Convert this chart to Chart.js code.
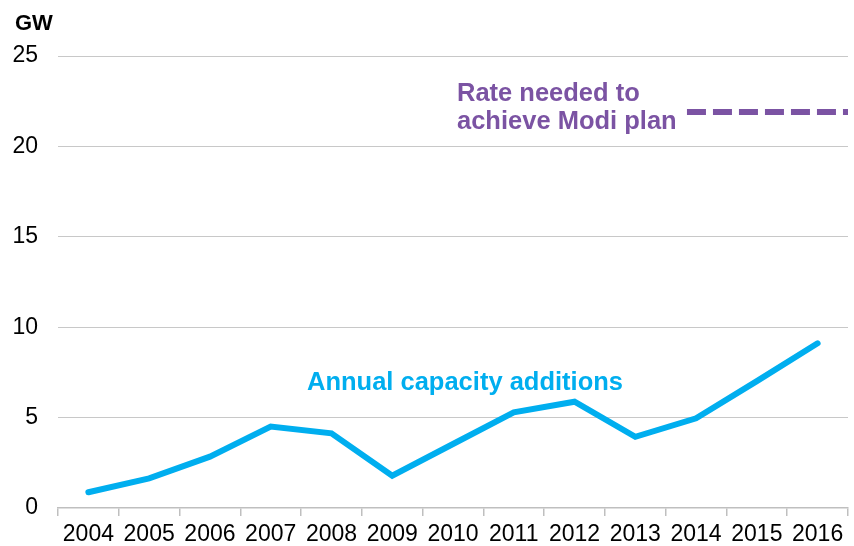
<!DOCTYPE html>
<html>
<head>
<meta charset="utf-8">
<script src="https://cdn.jsdelivr.net/npm/chart.js@4/dist/chart.umd.min.js"></script>
<style>
  html, body { margin: 0; padding: 0; background: #fff; }
  #wrap { width: 854px; height: 546px; }
</style>
</head>
<body>
<div id="wrap"><canvas id="chart"></canvas></div>
<script>
// data
const years = ['2004', '2005', '2006', '2007', '2008', '2009', '2010',
  '2011', '2012', '2013', '2014', '2015', '2016']
const additions = [0.87, 1.64, 2.84, 4.5, 4.13, 1.79, 3.54, 5.29, 5.88, 3.94, 4.96, 7.02, 9.11]
const modiRate = 21.9
const modiFrom = 9.85   // category index where the dashed line starts
const modiTo = 12.5     // right edge of the plot
const yTicks = [0, 5, 10, 15, 20, 25]

const font = 'Liberation Sans, Arial, sans-serif'
const blue = '#00aeef'
const purple = '#7b53a3'

// text labels on the plot
const labelsPlugin = {
  id: 'labels',
  afterDatasetsDraw(chart) {
    const ctx = chart.ctx
    ctx.save()
    ctx.textAlign = 'left'
    ctx.textBaseline = 'alphabetic'
    ctx.fillStyle = '#000'
    ctx.font = 'bold 22px ' + font
    ctx.fillText('GW', 15, 30)

    ctx.font = 'bold 25.5px ' + font
    ctx.fillStyle = purple
    ctx.fillText('Rate needed to', 457, 101)
    ctx.fillText('achieve Modi plan', 457, 129)

    ctx.fillStyle = blue
    ctx.fillText('Annual capacity additions', 307, 390)
    ctx.restore()
  }
}

new Chart(document.getElementById('chart'), {
  type: 'line',
  data: {
    labels: years,
    datasets: [
      {
        label: 'Annual capacity additions',
        data: additions,
        borderColor: blue,
        borderWidth: 6,
        borderCapStyle: 'round',
        pointRadius: 0,
        tension: 0,
        xAxisID: 'x'
      },
      {
        label: 'Rate needed to achieve Modi plan',
        data: [{ x: modiFrom, y: modiRate }, { x: modiTo, y: modiRate }],
        borderColor: purple,
        borderWidth: 6,
        borderDash: [19, 7],
        pointRadius: 0,
        xAxisID: 'x2'
      }
    ]
  },
  options: {
    responsive: true,
    maintainAspectRatio: false,
    animation: false,
    layout: { padding: { top: 56, right: 6, left: 0, bottom: 0 } },
    plugins: {
      legend: { display: false },
      tooltip: { enabled: false }
    },
    scales: {
      x: {
        type: 'category',
        offset: true,
        grid: {
          offset: true,
          drawOnChartArea: false,
          drawTicks: true,
          tickLength: 8,
          color: '#bfbfbf',
          lineWidth: 1.5
        },
        border: { color: '#bfbfbf', width: 1.5 },
        ticks: {
          color: '#000',
          font: { family: font, size: 23 },
          padding: 5,
          maxRotation: 0,
          autoSkip: false
        },
        afterFit: s => { s.height = 38 }
      },
      x2: {
        type: 'linear',
        display: false,
        min: -0.5,
        max: 12.5
      },
      y: {
        min: 0,
        max: 25,
        afterBuildTicks: s => { s.ticks = yTicks.map(v => ({ value: v })) },
        border: { display: false },
        grid: {
          drawTicks: false,
          color: ctx => ctx.tick && ctx.tick.value === 0 ? 'rgba(0,0,0,0)' : '#c8c8c8',
          lineWidth: 1,
          borderDash: [1, 1]
        },
        ticks: {
          color: '#000',
          font: { family: font, size: 23 },
          padding: 20
        },
        afterFit: s => { s.width = 58 }
      }
    }
  },
  plugins: [labelsPlugin]
})
</script>
</body>
</html>
